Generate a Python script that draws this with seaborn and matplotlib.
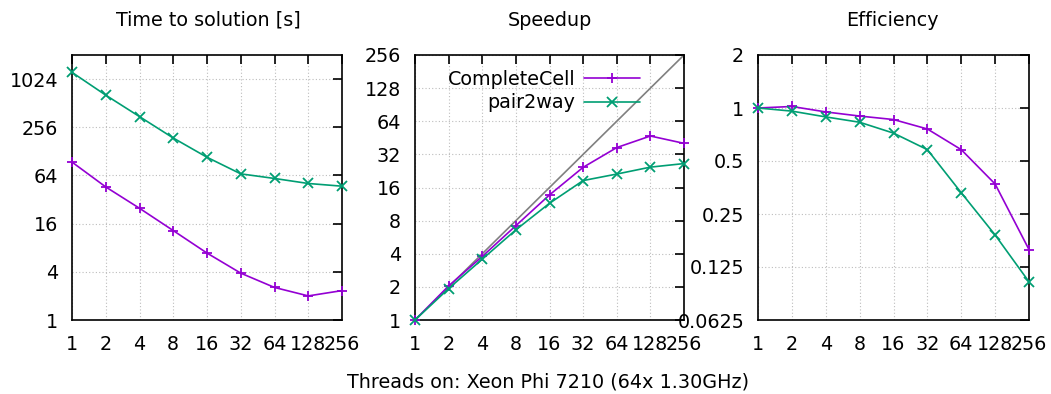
import numpy as np
import pandas as pd
import matplotlib
matplotlib.use("Agg")
import matplotlib.pyplot as plt
from matplotlib.ticker import FixedLocator, FixedFormatter, NullLocator
from matplotlib.lines import Line2D
import seaborn as sns

# Thread counts
threads = [1, 2, 4, 8, 16, 32, 64, 128, 256]
series_names = ["CompleteCell", "pair2way"]

# Time to solution [s]
time_completecell = [94, 46, 24.9, 13.1, 6.86, 3.85, 2.55, 2.0, 2.33]
time_pair2way = [1243, 645, 348, 188, 108, 67, 58.7, 50.8, 47]

# Speedup
speedup_completecell = [1, 2.04, 3.78, 7.2, 13.7, 24.4, 36.9, 47, 40.3]
speedup_pair2way = [1, 1.93, 3.57, 6.6, 11.5, 18.5, 21.2, 24.5, 26.4]

# Efficiency
eff_completecell = [1, 1.02, 0.95, 0.9, 0.86, 0.76, 0.58, 0.37, 0.157]
eff_pair2way = [1, 0.96, 0.89, 0.83, 0.72, 0.58, 0.33, 0.19, 0.103]

# Axis tick values
time_ticks = [1, 4, 16, 64, 256, 1024]
speedup_ticks = [1, 2, 4, 8, 16, 32, 64, 128, 256]
eff_ticks = [0.0625, 0.125, 0.25, 0.5, 1, 2]
eff_tick_labels = ["0.0625", "0.125", "0.25", "0.5", "1", "2"]


def long_frame(a, b):
    return pd.DataFrame({
        "threads": threads * 2,
        "value": list(a) + list(b),
        "series": [series_names[0]] * len(threads) + [series_names[1]] * len(threads),
    })


sns.set_theme(style="white")
FS = 13.8
MS = 7.5
plt.rcParams["font.family"] = ["DejaVu Sans"]
plt.rcParams["font.size"] = FS
plt.rcParams["text.color"] = "black"

palette = {"CompleteCell": "#9400D3", "pair2way": "#009E73"}
markers = {"CompleteCell": "+", "pair2way": "x"}

W, H = 1051, 394
fig = plt.figure(figsize=(W / 100, H / 100), dpi=100)


def add_axes(left, right, top=55, bottom=320):
    return fig.add_axes([left / W, (H - bottom) / H, (right - left) / W, (bottom - top) / H])


ax1 = add_axes(72, 342)
ax2 = add_axes(415, 684)
ax3 = add_axes(758, 1029)


def draw(ax, df):
    sns.lineplot(data=df, x="threads", y="value", hue="series", style="series",
                 palette=palette, markers=markers, dashes=False, ax=ax,
                 linewidth=1.2, markersize=MS, markeredgewidth=1.3, legend=False,
                 clip_on=False, zorder=3)
    for ln in ax.lines:
        ln.set_markeredgecolor(ln.get_color())
        ln.set_markerfacecolor(ln.get_color())


draw(ax1, long_frame(time_completecell, time_pair2way))
draw(ax2, long_frame(speedup_completecell, speedup_pair2way))
# ideal speedup
ax2.plot(threads, threads, color="#808080", linewidth=1.2, zorder=1)
draw(ax3, long_frame(eff_completecell, eff_pair2way))

for ax in (ax1, ax2, ax3):
    ax.set_xscale("log", base=2)
    ax.set_yscale("log", base=2)
    ax.set_xlim(1, 256)
    ax.xaxis.set_major_locator(FixedLocator(threads))
    ax.xaxis.set_major_formatter(FixedFormatter([str(t) for t in threads]))
    ax.xaxis.set_minor_locator(NullLocator())
    ax.yaxis.set_minor_locator(NullLocator())
    ax.tick_params(axis="both", which="major", direction="in", length=6.5, width=1.2,
                   top=True, right=True, labelsize=FS, colors="black")
    ax.tick_params(axis="x", pad=11)
    ax.tick_params(axis="y", pad=10)
    for s in ax.spines.values():
        s.set_color("black")
        s.set_linewidth(1.2)
    ax.grid(True, which="major", color="#bdbdbd", linestyle=(0, (1, 2)), linewidth=0.8)
    ax.set_xlabel("")
    ax.set_ylabel("")

ax1.set_ylim(1, 2048)
ax1.yaxis.set_major_locator(FixedLocator(time_ticks))
ax1.yaxis.set_major_formatter(FixedFormatter([str(t) for t in time_ticks]))

ax2.set_ylim(1, 256)
ax2.yaxis.set_major_locator(FixedLocator(speedup_ticks))
ax2.yaxis.set_major_formatter(FixedFormatter([str(t) for t in speedup_ticks]))

ax3.set_ylim(0.0625, 2)
ax3.yaxis.set_major_locator(FixedLocator(eff_ticks))
ax3.yaxis.set_major_formatter(FixedFormatter(eff_tick_labels))

# Legend in the speedup panel, gnuplot style: text then sample
handles = [Line2D([], [], color=palette[n], marker=markers[n], markersize=MS,
                  markeredgewidth=1.3, linewidth=1.2) for n in series_names]
ax2.legend(handles, series_names, loc="upper right", bbox_to_anchor=(0.835, 0.945),
           frameon=False, markerfirst=False, handlelength=2.9, handletextpad=0.45,
           borderpad=0, borderaxespad=0, labelspacing=0.25, fontsize=FS)

fig.text(208 / W, 1 - 20 / H, "Time to solution [s]", ha="center", va="center", fontsize=FS)
fig.text(550 / W, 1 - 20 / H, "Speedup", ha="center", va="center", fontsize=FS)
fig.text(892 / W, 1 - 20 / H, "Efficiency", ha="center", va="center", fontsize=FS)
fig.text(548 / W, 1 - 382 / H, "Threads on: Xeon Phi 7210 (64x 1.30GHz)",
         ha="center", va="center", fontsize=FS)

fig.savefig("out.png", dpi=100, facecolor="white")
